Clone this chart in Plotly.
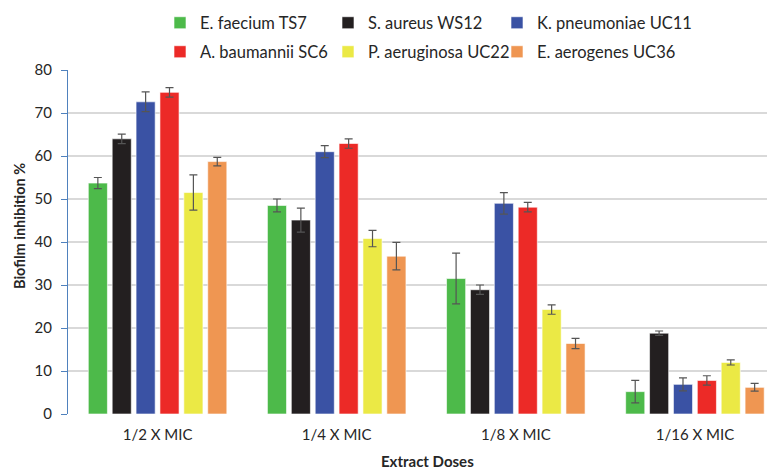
import plotly.graph_objects as go

categories = ["1/2 X MIC", "1/4 X MIC", "1/8 X MIC", "1/16 X MIC"]
series_names = ["E. faecium TS7", "S. aureus WS12", "K. pneumoniae UC11",
                "A. baumannii SC6", "P. aeruginosa UC22", "E. aerogenes UC36"]
e_faecium = [53.7, 48.5, 31.5, 5.2]
s_aureus = [64.0, 45.1, 28.9, 18.8]
k_pneumoniae = [72.6, 61.0, 49.0, 6.9]
a_baumannii = [74.8, 62.9, 48.1, 7.8]
p_aeruginosa = [51.5, 40.8, 24.3, 12.0]
e_aerogenes = [58.7, 36.7, 16.4, 6.2]
err_e_faecium = [1.3, 1.5, 5.9, 2.6]
err_s_aureus = [1.1, 2.8, 1.1, 0.5]
err_k_pneumoniae = [2.3, 1.4, 2.5, 1.5]
err_a_baumannii = [1.1, 1.1, 1.1, 1.1]
err_p_aeruginosa = [4.1, 1.9, 1.1, 0.6]
err_e_aerogenes = [1.0, 3.2, 1.2, 0.9]

values = [e_faecium, s_aureus, k_pneumoniae, a_baumannii, p_aeruginosa, e_aerogenes]
errors = [err_e_faecium, err_s_aureus, err_k_pneumoniae, err_a_baumannii, err_p_aeruginosa, err_e_aerogenes]
colors = ["#4dba4a", "#231f20", "#3a52a4", "#ec2a27", "#ebe945", "#ef9652"]

FONT = "Lato"
TXT = "#262626"
# page body has an 8px margin, so the figure is drawn 8px in from the window edge
W, H = 767, 470
L, T, B = 60, 62, 64
PW, PH = W - L, H - T - B

leg_ids = ["legend", "legend2", "legend3", "legend4", "legend5", "legend6"]
leg_cols = [152, 320, 489]
leg_rows = [15, 44]

fig = go.Figure()
for name, v, e, c, lg in zip(series_names, values, errors, colors, leg_ids):
    fig.add_trace(go.Bar(
        x=categories, y=v, name=name, legend=lg, showlegend=True,
        marker=dict(color=c, line=dict(color="rgba(255,255,255,0.6)", width=1)),
        error_y=dict(type="data", array=e, visible=True, color="#555555", thickness=1.2, width=4),
    ))

legends = {}
for i, lg in enumerate(leg_ids):
    legends[lg] = dict(orientation="h", xanchor="left", yanchor="middle",
                       xref="container", yref="container",
                       x=leg_cols[i % 3] / W, y=1 - leg_rows[i // 3] / H,
                       font=dict(family=FONT, size=16.5, color=TXT), bgcolor="rgba(0,0,0,0)",
                       itemwidth=30, visible=True)

fig.update_layout(
    width=W, height=H, showlegend=True,
    margin=dict(l=L, r=0, t=T, b=B, autoexpand=False),
    paper_bgcolor="white", plot_bgcolor="white",
    barmode="group", bargap=0.2, bargroupgap=0.2,
    font=dict(family=FONT, color=TXT),
    xaxis=dict(range=[-0.5, 3.447], showgrid=False, showline=False, ticks="", automargin=False,
               ticklabelstandoff=10,
               tickfont=dict(family=FONT, size=15, color=TXT)),
    yaxis=dict(range=[0, 80], dtick=10, showgrid=True, gridcolor="#d9d9d9", gridwidth=1.5,
               showline=True, linecolor="#4f81bd", linewidth=1, ticks="outside", ticklen=6,
               tickcolor="#4f81bd", zeroline=False, automargin=False, ticklabelstandoff=6,
               tickfont=dict(family=FONT, size=15, color=TXT)),
    yaxis2=dict(range=[0, 80], dtick=10, overlaying="y", side="left", anchor="x",
                showgrid=False, showline=False, zeroline=False, showticklabels=False,
                ticks="inside", ticklen=5, tickcolor="#4f81bd", automargin=False),
    annotations=[
        dict(text="<b>Biofilm inhibition %</b>", textangle=-90, showarrow=False,
             xref="paper", yref="paper", x=(12 - L) / PW, y=1 - (218 - T) / PH,
             xanchor="center", yanchor="middle", font=dict(family=FONT, size=14.5, color=TXT)),
        dict(text="<b>Extract Doses</b>", showarrow=False,
             xref="paper", yref="paper", x=(419 - L) / PW, y=1 - (453 - T) / PH,
             xanchor="center", yanchor="middle", font=dict(family=FONT, size=15, color=TXT)),
    ],
    **legends,
)

fig.write_html("out.html")
